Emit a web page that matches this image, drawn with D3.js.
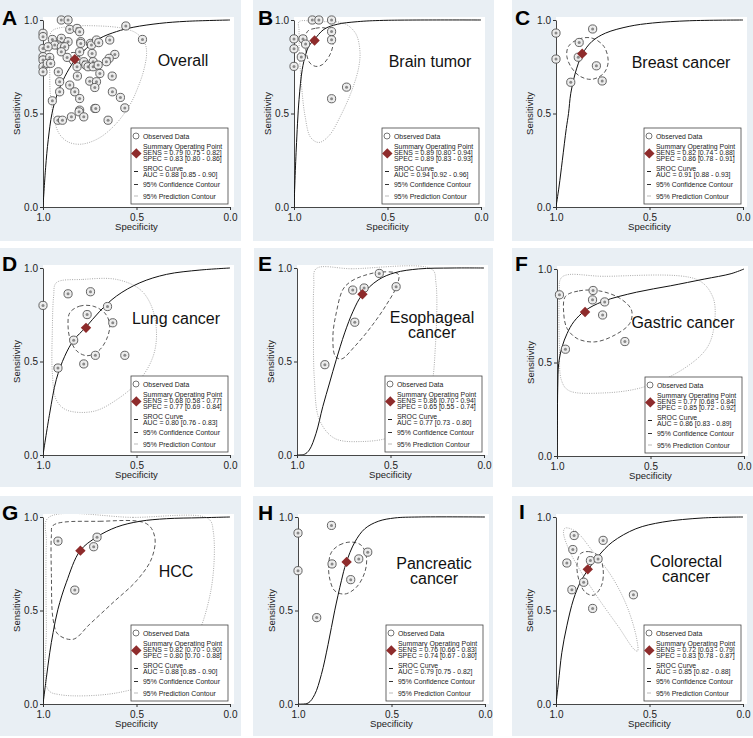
<!DOCTYPE html>
<html><head><meta charset="utf-8">
<script src="https://cdn.jsdelivr.net/npm/d3@7"></script>
<style>body{margin:0;background:#fff}svg{display:block}text{font-family:"Liberation Sans",Arial,Helvetica,sans-serif}</style>
</head><body>
<script>
// ---------------- DATA ----------------
const panelLetters = ["A","B","C","D","E","F","G","H","I"];
const panelTitles = [["Overall"],["Brain tumor"],["Breast cancer"],["Lung cancer"],["Esophageal","cancer"],["Gastric cancer"],["HCC"],["Pancreatic","cancer"],["Colorectal","cancer"]];
const sensText = ["0.79 [0.75 - 0.82]","0.89 [0.80 - 0.94]","0.82 [0.74 - 0.88]","0.68 [0.58 - 0.77]","0.86 [0.70 - 0.94]","0.77 [0.68 - 0.84]","0.82 [0.70 - 0.90]","0.76 [0.66 - 0.83]","0.72 [0.63 - 0.79]"];
const specText = ["0.83 [0.80 - 0.86]","0.89 [0.83 - 0.93]","0.86 [0.78 - 0.91]","0.77 [0.69 - 0.84]","0.65 [0.55 - 0.74]","0.85 [0.72 - 0.92]","0.80 [0.70 - 0.88]","0.74 [0.67 - 0.80]","0.83 [0.78 - 0.87]"];
const aucText = ["0.88 [0.85 - 0.90]","0.94 [0.92 - 0.96]","0.91 [0.88 - 0.93]","0.80 [0.76 - 0.83]","0.77 [0.73 - 0.80]","0.86 [0.83 - 0.89]","0.88 [0.85 - 0.90]","0.79 [0.75 - 0.82]","0.85 [0.82 - 0.88]"];
// summary operating point [specificity, sensitivity]
const summarySpec = [0.83,0.89,0.86,0.77,0.65,0.85,0.80,0.74,0.83];
const summarySens = [0.79,0.89,0.82,0.68,0.86,0.77,0.82,0.76,0.72];
const axisTicks = [0, 0.5, 1];

// observed studies [specificity, sensitivity]
const pointsA = [[0.902,1.0],[0.866,1.0],[0.557,0.968],[1.0,0.929],[1.0,0.911],[1.0,0.848],[1.0,0.804],[1.0,0.786],[1.0,0.75],[1.0,0.723],[0.95,0.896],[0.902,0.902],[0.866,0.884],[0.92,0.866],[0.9375,0.866],[0.973,0.857],[0.902,0.857],[0.884,0.857],[0.902,0.83],[0.857,0.95],[0.818,0.955],[0.804,0.9375],[0.798,0.884],[0.798,0.875],[0.804,0.83],[0.746,0.875],[0.741,0.866],[0.714,0.893],[0.702,0.879],[0.7375,0.821],[0.732,0.777],[0.643,0.893],[0.616,0.816],[0.646,0.795],[0.661,0.777],[0.964,0.8],[0.977,0.768],[0.959,0.768],[0.871,0.8],[0.818,0.75],[0.782,0.777],[0.771,0.759],[0.759,0.75],[0.732,0.75],[0.705,0.759],[0.696,0.714],[0.918,0.723],[0.816,0.7],[0.911,0.67],[0.75,0.673],[0.714,0.67],[0.723,0.639],[0.63,0.7],[0.857,0.652],[0.83,0.616],[0.804,0.58],[0.911,0.616],[0.95,0.568],[0.629,0.616],[0.586,0.586],[0.5625,0.53],[0.804,0.518],[0.807,0.509],[0.723,0.527],[0.718,0.527],[0.782,0.482],[0.848,0.482],[0.92,0.464],[0.896,0.464],[0.652,0.464],[0.468,0.896]];
const pointsB = [[0.902,1.0],[0.867,1.0],[0.799,1.0],[1.0,0.899],[1.0,0.846],[1.0,0.752],[0.952,0.899],[0.938,0.871],[0.961,0.802],[0.799,0.938],[0.799,0.894],[0.719,0.641],[0.799,0.579]];
const pointsC = [[1.0,0.93],[1.0,0.791],[0.804,0.952],[0.876,0.88],[0.881,0.801],[0.784,0.755],[0.753,0.674],[0.921,0.667]];
const pointsD = [[1.0,0.8],[0.866,0.862],[0.746,0.873],[0.764,0.751],[0.655,0.794],[0.627,0.707],[0.836,0.614],[0.72,0.533],[0.782,0.487],[0.92,0.465],[0.5625,0.533]];
const pointsE = [[0.56,0.971],[0.702,0.882],[0.641,0.893],[0.47,0.9],[0.691,0.71],[0.851,0.483]];
const pointsF = [[0.987,0.862],[0.807,0.885],[0.81,0.835],[0.745,0.824],[0.756,0.754],[0.637,0.612],[0.955,0.571]];
const pointsG = [[0.92,0.871],[0.711,0.892],[0.729,0.841],[0.83,0.609]];
const pointsH = [[1.0,0.914],[1.0,0.713],[0.821,0.955],[0.818,0.749],[0.675,0.776],[0.627,0.812],[0.718,0.665],[0.9,0.462]];
const pointsI = [[0.903,0.901],[0.91,0.826],[0.942,0.754],[0.748,0.875],[0.816,0.767],[0.775,0.776],[0.852,0.651],[0.915,0.611],[0.804,0.511],[0.586,0.584]];

// SROC curves [specificity, sensitivity]
const srocA = [[1,0],[0.986,0.21],[0.972,0.36],[0.952,0.5],[0.925,0.6],[0.884,0.696],[0.829,0.786],[0.768,0.848],[0.696,0.902],[0.607,0.938],[0.518,0.961],[0.375,0.982],[0.232,0.993],[0,1]];
const srocB = [[1,0],[0.988,0.31],[0.973,0.575],[0.956,0.735],[0.938,0.814],[0.92,0.862],[0.893,0.893],[0.84,0.95],[0.769,0.977],[0.662,0.991],[0.52,0.998],[0,1]];
const srocC = [[1,0],[0.984,0.107],[0.966,0.25],[0.945,0.42],[0.933,0.5],[0.921,0.608],[0.897,0.716],[0.859,0.818],[0.807,0.886],[0.735,0.93],[0.609,0.966],[0.483,0.984],[0.285,0.996],[0,1]];
const srocD = [[1,0],[0.964,0.224],[0.929,0.403],[0.884,0.528],[0.836,0.614],[0.771,0.683],[0.696,0.769],[0.607,0.85],[0.482,0.921],[0.339,0.966],[0.161,0.989],[0,1]];
const srocE = [[1,0],[0.96,0.004],[0.934,0.027],[0.898,0.116],[0.862,0.259],[0.826,0.385],[0.79,0.51],[0.745,0.653],[0.7,0.769],[0.653,0.855],[0.566,0.936],[0.476,0.975],[0.35,0.995],[0.171,1],[0,1]];
const srocF = [[1,0],[0.998,0.189],[0.996,0.368],[0.991,0.494],[0.973,0.583],[0.946,0.655],[0.91,0.718],[0.85,0.777],[0.756,0.826],[0.575,0.876],[0.394,0.91],[0.213,0.946],[0.069,0.975],[0,1]];
const srocG = [[1,0],[0.982,0.14],[0.964,0.274],[0.946,0.382],[0.92,0.507],[0.875,0.651],[0.802,0.819],[0.714,0.892],[0.607,0.946],[0.482,0.977],[0.339,0.991],[0.161,0.996],[0,1]];
const srocH = [[1,0],[0.946,0.005],[0.911,0.05],[0.875,0.158],[0.839,0.319],[0.804,0.498],[0.768,0.659],[0.743,0.753],[0.696,0.866],[0.643,0.937],[0.571,0.977],[0.482,0.995],[0.357,1],[0,1]];
const srocI = [[1,0],[0.987,0.113],[0.969,0.274],[0.942,0.418],[0.906,0.561],[0.87,0.651],[0.832,0.713],[0.771,0.794],[0.699,0.866],[0.573,0.937],[0.429,0.973],[0.213,0.995],[0,1]];

// 95% confidence contours [specificity, sensitivity]
const confA = [[0.86,0.815],[0.845,0.826],[0.825,0.824],[0.806,0.808],[0.8,0.786],[0.805,0.765],[0.82,0.753],[0.84,0.756],[0.856,0.772],[0.863,0.795]];
const confB = [[0.929,0.938],[0.884,0.956],[0.831,0.956],[0.795,0.929],[0.79,0.876],[0.808,0.814],[0.849,0.761],[0.884,0.752],[0.915,0.77],[0.932,0.814],[0.938,0.876]];
const confC = [[0.933,0.859],[0.879,0.898],[0.807,0.903],[0.744,0.859],[0.721,0.778],[0.744,0.716],[0.807,0.683],[0.87,0.698],[0.915,0.742],[0.942,0.805]];
const confD = [[0.857,0.76],[0.804,0.796],[0.732,0.796],[0.67,0.76],[0.643,0.698],[0.661,0.617],[0.705,0.555],[0.764,0.531],[0.818,0.555],[0.854,0.617],[0.866,0.689]];
const confE = [[0.754,0.886],[0.709,0.93],[0.637,0.961],[0.548,0.979],[0.458,0.966],[0.467,0.903],[0.521,0.805],[0.601,0.689],[0.691,0.581],[0.763,0.513],[0.795,0.528],[0.808,0.635],[0.79,0.76]];
const confF = [[0.955,0.853],[0.882,0.883],[0.774,0.883],[0.665,0.844],[0.602,0.781],[0.611,0.709],[0.702,0.641],[0.801,0.61],[0.892,0.628],[0.946,0.682],[0.964,0.763]];
const confG = [[0.946,0.955],[0.696,0.977],[0.446,0.964],[0.402,0.892],[0.42,0.776],[0.5,0.659],[0.625,0.543],[0.75,0.427],[0.839,0.346],[0.92,0.373],[0.946,0.453],[0.955,0.686],[0.955,0.901]];
const confH = [[0.821,0.812],[0.777,0.851],[0.714,0.866],[0.661,0.848],[0.634,0.785],[0.643,0.704],[0.688,0.624],[0.75,0.588],[0.804,0.606],[0.83,0.668],[0.836,0.749]];
const confI = [[0.87,0.803],[0.825,0.815],[0.771,0.79],[0.748,0.722],[0.757,0.633],[0.798,0.582],[0.843,0.597],[0.876,0.659],[0.888,0.74]];

// 95% prediction contours [specificity, sensitivity]
const predA = [[0.955,0.938],[0.875,0.964],[0.696,0.968],[0.571,0.955],[0.5,0.929],[0.455,0.875],[0.446,0.821],[0.461,0.732],[0.491,0.643],[0.536,0.545],[0.616,0.438],[0.705,0.366],[0.795,0.336],[0.866,0.348],[0.914,0.393],[0.943,0.482],[0.961,0.607],[0.964,0.75],[0.963,0.857]];
const predB = [[0.973,0.991],[0.875,0.991],[0.733,0.982],[0.671,0.929],[0.648,0.841],[0.653,0.752],[0.689,0.628],[0.751,0.487],[0.813,0.381],[0.867,0.345],[0.911,0.372],[0.941,0.487],[0.961,0.664],[0.972,0.841],[0.973,0.947]];
const predC = [];
const predD = [[0.929,0.921],[0.786,0.939],[0.607,0.939],[0.482,0.886],[0.42,0.796],[0.393,0.653],[0.411,0.528],[0.482,0.403],[0.607,0.295],[0.732,0.233],[0.875,0.241],[0.929,0.295],[0.95,0.438],[0.95,0.671],[0.943,0.85]];
const predE = [[0.898,0.996],[0.709,0.996],[0.278,0.993],[0.257,0.921],[0.26,0.581],[0.287,0.349],[0.368,0.188],[0.494,0.098],[0.655,0.072],[0.799,0.089],[0.88,0.188],[0.907,0.402],[0.912,0.671],[0.91,0.903]];
const predF = [[0.973,0.957],[0.756,0.961],[0.25,0.943],[0.168,0.853],[0.156,0.727],[0.195,0.583],[0.322,0.467],[0.539,0.368],[0.756,0.337],[0.937,0.35],[0.976,0.404],[0.987,0.583],[0.987,0.853]];
const predG = [[0.973,0.995],[0.518,0.998],[0.116,0.991],[0.089,0.919],[0.104,0.597],[0.214,0.292],[0.393,0.131],[0.607,0.059],[0.911,0.05],[0.973,0.077],[0.982,0.418],[0.982,0.866]];
const predH = [];
const predI = [[0.951,0.941],[0.894,0.923],[0.807,0.821],[0.699,0.677],[0.618,0.516],[0.568,0.346],[0.564,0.283],[0.582,0.292],[0.663,0.409],[0.771,0.561],[0.87,0.713],[0.933,0.83],[0.96,0.919]];

const allPoints = [pointsA,pointsB,pointsC,pointsD,pointsE,pointsF,pointsG,pointsH,pointsI];
const allSroc = [srocA,srocB,srocC,srocD,srocE,srocF,srocG,srocH,srocI];
const allConf = [confA,confB,confC,confD,confE,confF,confG,confH,confI];
const allPred = [predA,predB,predC,predD,predE,predF,predG,predH,predI];

// ---------------- LAYOUT ----------------
const PS = 187;
const layout = [
  {bg:[0,0,241,241],   plot:[43,20],  lab:[2,25],   title:[140,46]},
  {bg:[253,0,241,241], plot:[294,20], lab:[258,25], title:[136,47]},
  {bg:[512,0,241,241], plot:[556,20], lab:[515,25], title:[125,48]},
  {bg:[0,248,241,239], plot:[43,268], lab:[2,271],  title:[133,56]},
  {bg:[254,248,239,239],plot:[297,268],lab:[258,271],title:[135,55]},
  {bg:[512,248,241,239],plot:[557,269],lab:[515,271],title:[126,59]},
  {bg:[0,496,241,240], plot:[43,517], lab:[2,520],  title:[133,60]},
  {bg:[253,496,240,240],plot:[298,517],lab:[258,520],title:[136,52]},
  {bg:[512,496,241,240],plot:[556,517],lab:[519,519],title:[130,50]}
];

const svg = d3.select("body").append("svg").attr("width",753).attr("height",738);
svg.append("rect").attr("width",753).attr("height",738).attr("fill","#ffffff");
const defs = svg.append("defs");

const BG = "#e9eff4", RED = "#8e2b2b";

layout.forEach((L,i)=>{
  const g = svg.append("g");
  g.append("rect").attr("x",L.bg[0]).attr("y",L.bg[1]).attr("width",L.bg[2]).attr("height",L.bg[3]).attr("fill",BG);
  const px=L.plot[0], py=L.plot[1];
  const x = d3.scaleLinear().domain([1,0]).range([px,px+PS]);
  const y = d3.scaleLinear().domain([0,1]).range([py+PS,py]);
  g.append("rect").attr("x",px).attr("y",py-3).attr("width",PS+4).attr("height",PS+3).attr("fill","#fff");
  const cid = "clip"+i;
  defs.append("clipPath").attr("id",cid).append("rect").attr("x",px).attr("y",py-3).attr("width",PS+4).attr("height",PS+3);

  // axes
  const ax = g.append("g").attr("transform",`translate(0,${py+PS})`)
    .call(d3.axisBottom(x).tickValues(axisTicks).tickFormat(d3.format(".1f")).tickSize(3).tickSizeOuter(0));
  const ay = g.append("g").attr("transform",`translate(${px},0)`)
    .call(d3.axisLeft(y).tickValues(axisTicks).tickFormat(d3.format(".1f")).tickSize(3).tickSizeOuter(0));
  [ax,ay].forEach(a=>{
    a.select(".domain").attr("stroke","#333").attr("stroke-width",0.9);
    a.selectAll(".tick line").attr("stroke","#333");
    a.selectAll(".tick text").attr("font-size",10).attr("fill","#222").style("font-family","'Liberation Sans',Arial,sans-serif");
  });
  ax.selectAll(".tick text").attr("dy","0.95em").attr("y",4);
  ay.selectAll(".tick text").attr("x",-5);
  g.append("text").attr("x",px+PS/2).attr("y",py+PS+23).attr("text-anchor","middle").attr("font-size",9.5).attr("fill","#222").text("Specificity");
  g.append("text").attr("transform",`translate(${px-23},${py+PS/2}) rotate(-90)`).attr("text-anchor","middle").attr("font-size",9.5).attr("fill","#222").text("Sensitivity");

  const pg = g.append("g").attr("clip-path",`url(#${cid})`);
  // prediction contour
  if (allPred[i].length) pg.append("path").datum(allPred[i])
    .attr("d",d3.line().x(d=>x(d[0])).y(d=>y(d[1])).curve(d3.curveCatmullRomClosed.alpha(0.5)))
    .attr("fill","none").attr("stroke","#a0a0a0").attr("stroke-width",0.9).attr("stroke-dasharray","1,1.3");
  // confidence contour
  pg.append("path").datum(allConf[i])
    .attr("d",d3.line().x(d=>x(d[0])).y(d=>y(d[1])).curve(d3.curveCatmullRomClosed.alpha(0.5)))
    .attr("fill","none").attr("stroke","#444").attr("stroke-width",0.9).attr("stroke-dasharray","4,2.5");
  // SROC curve
  pg.append("path").datum(allSroc[i])
    .attr("d",d3.line().x(d=>x(d[0])).y(d=>y(d[1])).curve(d3.curveCatmullRom.alpha(0.5)))
    .attr("fill","none").attr("stroke","#111").attr("stroke-width",1);
  // observed points
  const pts = g.append("g").selectAll("g").data(allPoints[i]).join("g")
    .attr("transform",d=>`translate(${x(d[0])},${y(d[1])})`);
  pts.append("circle").attr("r",4.1).attr("fill","#ececec").attr("stroke","#555").attr("stroke-width",0.9);
  pts.append("circle").attr("r",1.5).attr("fill","#8a8a8a");
  // summary diamond
  const sx=x(summarySpec[i]), sy=y(summarySens[i]);
  g.append("path").attr("d",`M${sx},${sy-5.2}L${sx+5.2},${sy}L${sx},${sy+5.2}L${sx-5.2},${sy}Z`).attr("fill",RED);

  // title
  panelTitles[i].forEach((t,k)=>{
    g.append("text").attr("x",px+L.title[0]).attr("y",py+L.title[1]+k*15).attr("text-anchor","middle")
      .attr("font-size",16).attr("fill","#111").text(t);
  });
  // legend
  const lx = px+88, ly = py+108;
  const lg = g.append("g").attr("transform",`translate(${lx},${ly})`);
  lg.append("rect").attr("width",97).attr("height",76).attr("fill","#fff").attr("stroke","#444").attr("stroke-width",0.8);
  const fs = 6.9;
  const T = (yy,s)=>lg.append("text").attr("x",12).attr("y",yy).attr("font-size",fs).attr("fill","#222").text(s);
  lg.append("circle").attr("cx",5).attr("cy",8).attr("r",3).attr("fill","#fff").attr("stroke","#555").attr("stroke-width",0.8);
  T(10.5,"Observed Data");
  lg.append("path").attr("d","M5,20.2L10.2,25.4L5,30.6L-0.2,25.4Z").attr("transform","translate(0.3,0)").attr("fill",RED);
  T(21.3,"Summary Operating Point");
  T(27.3,"SENS = "+sensText[i]);
  T(33.3,"SPEC = "+specText[i]);
  lg.append("line").attr("x1",3).attr("x2",7).attr("y1",43.5).attr("y2",43.5).attr("stroke","#222").attr("stroke-width",1);
  T(42.6,"SROC Curve");
  T(48.6,"AUC = "+aucText[i]);
  lg.append("line").attr("x1",3).attr("x2",7).attr("y1",56.5).attr("y2",56.5).attr("stroke","#333").attr("stroke-width",1);
  T(59,"95% Confidence Contour");
  lg.append("line").attr("x1",3).attr("x2",7).attr("y1",68).attr("y2",68).attr("stroke","#bbb").attr("stroke-width",1);
  T(70.5,"95% Prediction Contour");

  // panel letter
  g.append("text").attr("x",L.lab[0]).attr("y",L.lab[1]).attr("font-size",21).attr("font-weight","bold").attr("fill","#000").text(panelLetters[i]);
});
</script>
</body></html>
